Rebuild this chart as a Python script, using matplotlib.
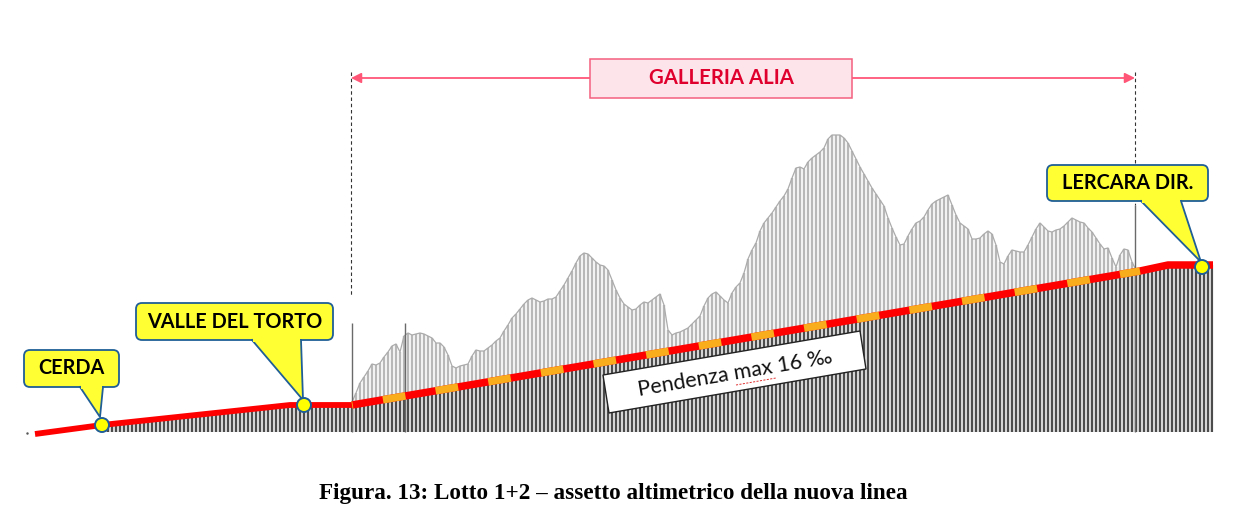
import numpy as np
import matplotlib
matplotlib.use('Agg')
import matplotlib.pyplot as plt
from matplotlib.patches import FancyBboxPatch, Polygon, Rectangle, Circle

plt.rcParams['lines.scale_dashes'] = False

# Altezza del terreno sopra la base, una barra ogni 4 px da x=100
terrain_start = 100
terrain_step = 4
terrain = [
    6, 7, 7, 8, 8, 9, 9, 9, 10, 10, 11, 11, 11, 12, 12, 13, 13, 13, 14, 14, 15, 15, 15, 16,
    16, 17, 17, 17, 18, 18, 19, 19, 19, 20, 20, 21, 21, 21, 22, 22, 23, 23, 23, 24, 24, 25, 25, 25,
    26, 27, 27, 27, 27, 27, 27, 27, 27, 27, 27, 27, 27, 27, 27,
    30, 39, 49, 55, 61, 68, 67, 69, 75, 80, 86, 88, 80, 96, 99, 97, 98, 99, 98, 96, 94, 89, 89, 85,
    77, 66, 64, 66, 67, 68, 76, 82, 81, 81, 84, 87, 91, 94, 101, 107, 114, 118, 123, 128, 132, 134,
    132, 130, 131, 133, 133, 135, 141, 147, 154, 161, 169, 176, 179, 178, 174, 170, 167, 166, 162,
    152, 142, 134, 128, 125, 122, 123, 127, 130, 129, 132, 135, 138, 127, 102, 97, 99, 100, 102,
    104, 108, 112, 116, 126, 134, 138, 140, 136, 132, 129, 139, 145, 149, 159, 173, 182, 189, 201,
    209, 214, 219, 225, 231, 236, 243, 254, 264, 265, 263, 270, 274, 277, 280, 284, 293, 297, 297,
    297, 294, 289, 281, 273, 265, 258, 251, 244, 238, 232, 226, 214, 204, 195, 187, 188, 196, 203,
    209, 211, 215, 222, 228, 231, 233, 235, 237, 227, 217, 209, 206, 203, 193, 193, 194, 198, 201,
    198, 187, 170, 168, 176, 182, 181, 180, 180, 187, 195, 203, 209, 205, 201, 200, 202, 203, 206,
    210, 214, 212, 210, 209, 204, 200, 194, 188, 183, 184, 174, 165, 177, 183, 182, 170, 162,
    161, 162, 163, 164, 165, 166, 166, 167, 167, 167, 167, 167, 167, 167, 167, 167, 167, 167, 167,
]
profile_first_bar = 63

# Tracciato della linea
rail_x = [35, 102, 290, 352, 1140, 1168, 1213]
rail_h = [-2, 7, 27, 27, 161, 167, 167]

# Barre isolate piu alte
spike_x = [352, 405, 1135]
spike_h = [109, 109, 227]

stations = ['CERDA', 'VALLE DEL TORTO', 'LERCARA DIR.']
station_x = [102, 304, 1202]
station_h = [7, 27, 165]


def py(y):
    # da riga del disegno ad altezza
    return 432 - y


fig = plt.figure(figsize=(12.56, 5.26), dpi=100)
ax = fig.add_axes([0, 0, 1, 1])
ax.set_xlim(0, 1256)
ax.set_ylim(-94, 432)
ax.axis('off')

bar_x = terrain_start + terrain_step * np.arange(len(terrain))

# Terreno sopra la linea (grigio chiaro) e sotto (scuro)
ax.vlines(bar_x, 0, terrain, color='#b8b8b8', lw=1.7, zorder=2)
ax.plot(bar_x[profile_first_bar:], terrain[profile_first_bar:], color='#ababab', lw=0.9, zorder=2)
dark = ax.vlines(bar_x, 0, terrain, color='#4c4c4c', lw=1.7, zorder=3)
under_rail = Polygon(list(zip(rail_x, rail_h)) + [(1213, 0), (35, 0)], closed=True,
                     transform=ax.transData)
dark.set_clip_path(under_rail)
ax.vlines(spike_x, 0, spike_h, color='#6a6a6a', lw=1.0, zorder=3)
ax.plot([27], [-1], marker='.', ms=1.5, color='#555555')

# Linea rossa e tratti arancio della galleria
ax.plot(rail_x[:4], rail_h[:4], color='#ff0000', lw=4.2, solid_capstyle='butt', zorder=4)
ax.plot(rail_x[3:], rail_h[3:], color='#ff0000', lw=5.4, solid_capstyle='butt', zorder=4)
on = 22.8 * 0.72
off = 30.6 * 0.72
ax.plot(rail_x[3:5], rail_h[3:5], color='#f9ad1d', lw=5.4, dash_capstyle='butt',
        linestyle=(on + off - 31.4 * 0.72, (on, off)), zorder=5)

# Riquadro pendenza
box = Polygon([(603, py(375)), (860, py(331)), (866, py(369)), (609, py(413))], closed=True,
              facecolor='white', edgecolor='#222222', lw=1.0, zorder=6)
ax.add_patch(box)
ax.text(735, py(373), 'Pendenza max 16 ‰', family='Lato', fontsize=15.4, rotation=9.7,
        rotation_mode='anchor', ha='center', va='center', color='#111111', zorder=7)
ax.plot([736, 776], [py(385), py(378)], color='#e03030', lw=0.7, ls=(0, (1.5, 1)), zorder=7)

# Galleria
for xv, top, bottom in [(351, 72, 297), (1135, 72, 205)]:
    ax.plot([xv, xv], [py(top), py(bottom)], color='#333333', lw=0.8, ls=(0, (2.5, 2)), zorder=1)
ax.annotate('', xy=(351, py(78)), xytext=(590, py(78)), zorder=3,
            arrowprops=dict(arrowstyle='-|>', color='#ff5577', lw=1.3, mutation_scale=15,
                            shrinkA=0, shrinkB=0))
ax.annotate('', xy=(1135, py(78)), xytext=(852, py(78)), zorder=3,
            arrowprops=dict(arrowstyle='-|>', color='#ff5577', lw=1.3, mutation_scale=15,
                            shrinkA=0, shrinkB=0))
ax.add_patch(Rectangle((590, py(98)), 262, 39, facecolor='#fde4ea', edgecolor='#f4607f', lw=1.1, zorder=4))
ax.text(721, py(78.5), 'GALLERIA ALIA', family='Lato', weight='bold', fontsize=14.7,
        color='#e0002d', ha='center', va='center', zorder=5)

# Etichette delle stazioni
callouts = [
    ((24, 350, 119, 387), [(80, 387), (103, 387), (100, 417)]),
    ((136, 303, 333, 340), [(252, 340), (301, 340), (303, 400)]),
    ((1047, 165, 1208, 201), [(1141, 201), (1181, 201), (1201, 262)]),
]
for name, sx, sh, (rect, tail) in zip(stations, station_x, station_h, callouts):
    x0, y0, x1, y1 = rect
    ax.add_patch(FancyBboxPatch((x0 + 6, py(y1) + 6), x1 - x0 - 12, y1 - y0 - 12,
                                boxstyle='round,pad=6,rounding_size=6', facecolor='#ffff33',
                                edgecolor='#1f5e96', lw=1.3, zorder=8))
    pts = [(x, py(y)) for x, y in tail]
    ax.add_patch(Polygon(pts, closed=True, facecolor='#ffff33', edgecolor='none', zorder=9))
    ax.plot([pts[0][0], pts[2][0], pts[1][0]], [pts[0][1], pts[2][1], pts[1][1]],
            color='#1f5e96', lw=1.3, zorder=10)
    ax.add_patch(Polygon([(pts[0][0] + 1, pts[0][1] + 1.5), (pts[1][0] - 1, pts[1][1] + 1.5),
                          (pts[1][0] - 1, pts[1][1] - 2), (pts[0][0] + 1, pts[0][1] - 2)],
                         closed=True, facecolor='#ffff33', edgecolor='none', zorder=10))
    ax.text((x0 + x1) / 2, py((y0 + y1) / 2), name, family='Lato', weight='bold', fontsize=14.3,
            color='black', ha='center', va='center', zorder=11)
    ax.add_patch(Circle((sx, sh), 7, facecolor='#ffff00', edgecolor='#1f5e96', lw=1.4, zorder=12))

ax.text(613, py(494), 'Figura. 13: Lotto 1+2 – assetto altimetrico della nuova linea',
        family='Liberation Serif', weight='bold', fontsize=16.7, color='black', ha='center', va='center')

fig.savefig('out.png', dpi=100)
